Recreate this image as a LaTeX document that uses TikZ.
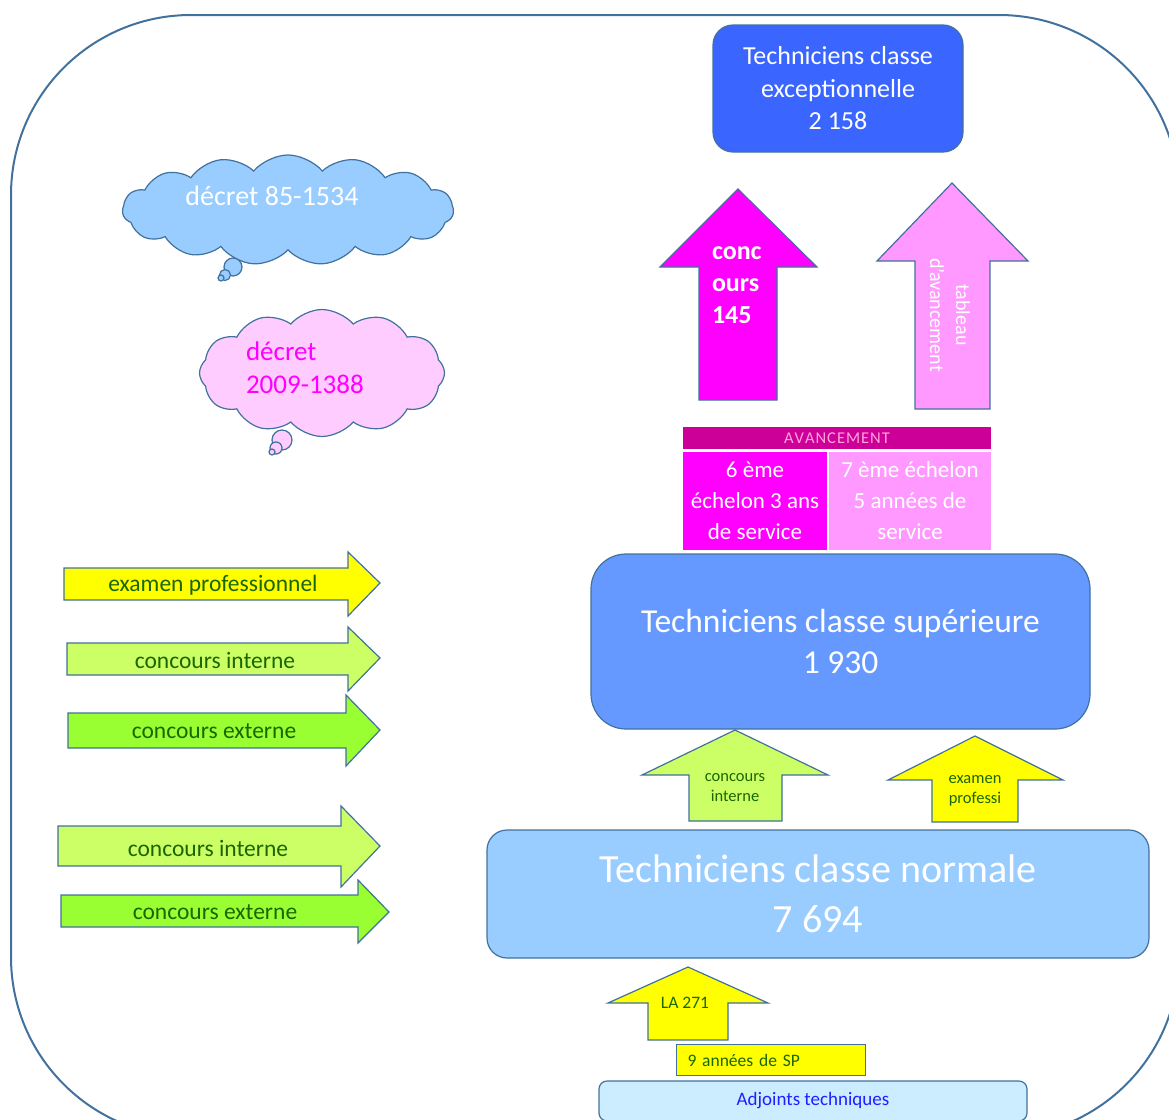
\documentclass[tikz,border=0pt]{standalone}
\usepackage{fontspec}
\setmainfont{Carlito}
\usetikzlibrary{shapes.symbols}
\definecolor{cLine}{HTML}{41719C}
\definecolor{cExcep}{HTML}{3A66FF}
\definecolor{cSup}{HTML}{6699FF}
\definecolor{cNorm}{HTML}{99CCFF}
\definecolor{cAdj}{HTML}{CCECFF}
\definecolor{cAdjTxt}{HTML}{1F1FFF}
\definecolor{cMagenta}{HTML}{FF00FF}
\definecolor{cPink}{HTML}{FF99FF}
\definecolor{cAvBar}{HTML}{CC0099}
\definecolor{cAvTxt}{HTML}{FFA3D8}
\definecolor{cYellow}{HTML}{FFFF00}
\definecolor{cLime}{HTML}{CCFF66}
\definecolor{cGreen}{HTML}{99FF33}
\definecolor{cGreenTxt}{HTML}{1A6600}
\definecolor{cCloudA}{HTML}{99CCFF}
\definecolor{cCloudB}{HTML}{FFCCFF}
\begin{document}
\begin{tikzpicture}[x=1pt,y=-1pt]
    \tikzstyle{every node}=[inner sep=0pt,outer sep=0pt];
    \tikzstyle{shp}=[draw=cLine,line width=1.2pt];
    \tikzstyle{grade}=[shp,rounded corners=20pt,text=white,align=center];
    \tikzstyle{cell}=[minimum height=98pt,text=white,align=center,font=\fontsize{23}{31}\selectfont];
    \tikzstyle{lbl}=[text=cGreenTxt,align=center];
    \tikzstyle{puff}=[cloud,cloud puffs=15,cloud puff arc=100,shp];
    \useasboundingbox (0,0) rectangle (1169,1119);
    \clip (0,0) rectangle (1169,1119);
    \draw[cLine,line width=2pt,rounded corners=180pt] (11,15) rectangle (1179,1137);

    % grades
    \node at (838,88.5) (excep) [grade,fill=cExcep,minimum width=250pt,minimum height=127pt,font=\fontsize{26}{32.5}\selectfont] {Techniciens classe\\exceptionnelle\\2 158};
    \node at (840.5,641.5) (sup) [grade,fill=cSup,rounded corners=35pt,minimum width=499pt,minimum height=175pt,font=\fontsize{33.5}{41}\selectfont] {Techniciens classe supérieure\\1 930};
    \node at (818,894) (norm) [grade,fill=cNorm,minimum width=662pt,minimum height=128pt,font=\fontsize{40}{50}\selectfont] {Techniciens classe normale\\7 694};
    \node at (813,1101) (adj) [shp,fill=cAdj,rounded corners=8pt,minimum width=428pt,minimum height=40pt,text=cAdjTxt,font=\fontsize{19}{23}\selectfont] {Adjoints techniques};
    \node at (771,1060) (sp) [shp,fill=cYellow,minimum height=31pt,inner xsep=11pt,text width=167pt,align=left,text=cGreenTxt,font=\fontsize{17.5}{21}\selectfont] {9 années de SP};

    % avancement
    \node at (837,438) (avbar) [fill=cAvBar,minimum width=308pt,minimum height=22pt,text=cAvTxt,font=\fontsize{16.5}{19}\selectfont] {A\kern1pt V\kern1pt A\kern1pt N\kern1pt C\kern1pt E\kern1pt M\kern1pt E\kern1pt N\kern1pt T};
    \node at (755,501) (av6) [cell,fill=cMagenta,minimum width=144pt] {6 ème\\échelon 3 ans\\de service};
    \node at (910,501) (av7) [cell,fill=cPink,minimum width=162pt] {7 ème échelon\\5 années de\\service};

    % fleches vers le haut
    \draw[shp,fill=cMagenta] (699,400) -- (699,267) -- (660,267) -- (738,189) -- (817,267) -- (777,267) -- (777,400) -- cycle;
    \node at (712,285) (concTxt) [anchor=west,align=left,text=white,font=\bfseries\fontsize{26}{32}\selectfont] {conc\\ours\\145};
    \draw[shp,fill=cPink] (915,409) -- (915,261) -- (877,261) -- (952,183) -- (1028,261) -- (990,261) -- (990,409) -- cycle;
    \node at (950,315) (tabTxt) [rotate=-90,align=center,text=white,font=\fontsize{20}{26}\selectfont] {tableau\\d'avancement};
    \draw[shp,fill=cLime] (689,821) -- (689,775) -- (642,775) -- (735,730) -- (828,775) -- (782,775) -- (782,821) -- cycle;
    \node at (735,788) (ciTxt) [lbl,font=\fontsize{16.5}{20}\selectfont] {concours\\interne};
    \draw[shp,fill=cYellow] (932,822) -- (932,780) -- (888,780) -- (975,736) -- (1063,780) -- (1018,780) -- (1018,822) -- cycle;
    \node at (975,791) (epTxt) [lbl,font=\fontsize{16.5}{20}\selectfont] {examen\\professi};
    \draw[shp,fill=cYellow] (648,1040) -- (648,1003) -- (608,1003) -- (688,967) -- (768,1003) -- (728,1003) -- (728,1040) -- cycle;
    \node at (685,1003) (laTxt) [lbl,font=\fontsize{17.5}{21}\selectfont] {LA 271};

    % fleches vers la droite
    \draw[shp,fill=cYellow] (64,568) -- (348,568) -- (348,552) -- (380,583) -- (348,616) -- (348,600) -- (64,600) -- cycle;
    \node at (213,585) (rA) [lbl,font=\fontsize{23.5}{28}\selectfont] {examen professionnel};
    \draw[shp,fill=cLime] (67,643) -- (348,643) -- (348,627) -- (380,658) -- (348,691) -- (348,675) -- (67,675) -- cycle;
    \node at (215,660) (rB) [lbl,font=\fontsize{23.5}{28}\selectfont] {concours interne};
    \draw[shp,fill=cGreen] (68,713) -- (346,713) -- (346,695) -- (380,730) -- (346,766) -- (346,748) -- (68,748) -- cycle;
    \node at (214,731) (rC) [lbl,font=\fontsize{23.5}{28}\selectfont] {concours externe};
    \draw[shp,fill=cLime] (58,826) -- (341,826) -- (341,806) -- (380,846) -- (341,887) -- (341,866) -- (58,866) -- cycle;
    \node at (208,848) (rD) [lbl,font=\fontsize{23.5}{28}\selectfont] {concours interne};
    \draw[shp,fill=cGreen] (61,895) -- (358,895) -- (358,880) -- (389,912) -- (358,943) -- (358,927) -- (61,927) -- cycle;
    \node at (215,912) (rE) [lbl,font=\fontsize{23.5}{28}\selectfont] {concours externe};

    % nuages
    \node at (288,210) (cloudA) [puff,fill=cCloudA,aspect=3,minimum width=331pt,minimum height=110pt] {};
    \draw[shp,fill=cCloudA] (233,267) circle (9pt);
    \draw[shp,fill=cCloudA] (225,275) circle (5.5pt);
    \draw[shp,fill=cCloudA] (221,278) circle (3pt);
    \node at (272,196) (decA) [text=white,font=\fontsize{28}{34}\selectfont] {décret 85-1534};
    \node at (322,373) (cloudB) [puff,cloud puffs=12,fill=cCloudB,aspect=2,minimum width=245pt,minimum height=127pt] {};
    \draw[shp,fill=cCloudB] (282,440) circle (10pt);
    \draw[shp,fill=cCloudB] (276,448) circle (6pt);
    \draw[shp,fill=cCloudB] (272,452) circle (3pt);
    \node at (246,368) (decB) [anchor=west,align=left,text=cMagenta,font=\fontsize{27}{33}\selectfont] {décret\\2009-1388};
\end{tikzpicture}
\end{document}
